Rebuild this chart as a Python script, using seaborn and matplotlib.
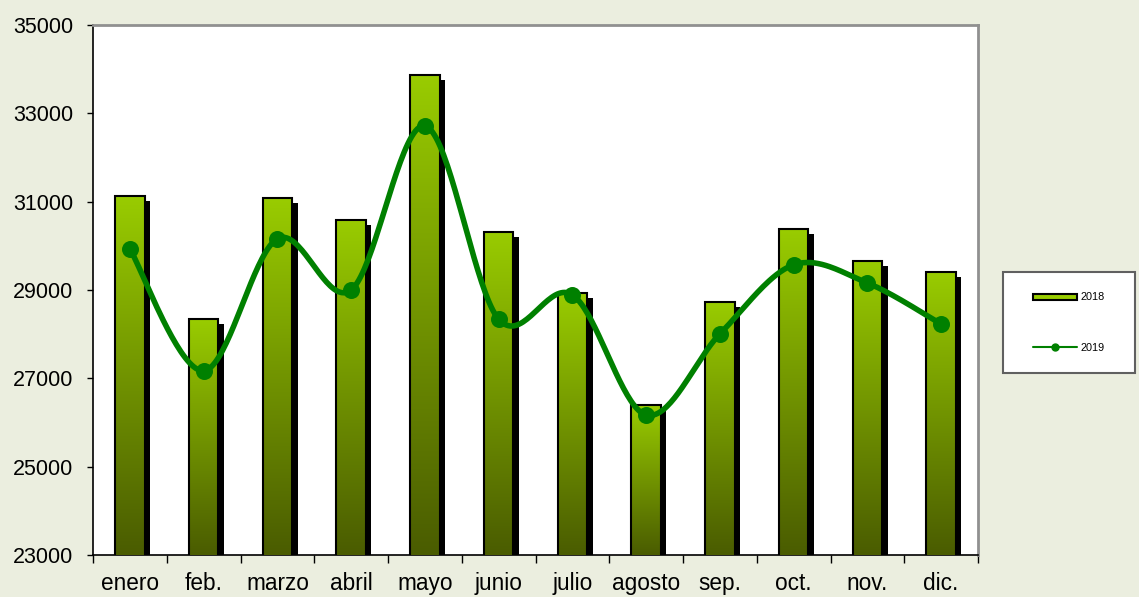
import numpy as np
import pandas as pd
import matplotlib
matplotlib.use("Agg")
import matplotlib.pyplot as plt
import matplotlib.transforms as mtransforms
from matplotlib.patches import Rectangle, Patch
from matplotlib.lines import Line2D
from matplotlib.colors import LinearSegmentedColormap
import seaborn as sns

# ---- data ----
months = ["enero", "feb.", "marzo", "abril", "mayo", "junio", "julio",
          "agosto", "sep.", "oct.", "nov.", "dic."]
values_2018 = [31130, 28340, 31080, 30585, 33870, 30315, 28930,
               26395, 28730, 30380, 29655, 29410]
values_2019 = [29930, 27170, 30160, 29000, 32715, 28340, 28890,
               26170, 28005, 29570, 29160, 28230]
y_ticks = [23000, 25000, 27000, 29000, 31000, 33000, 35000]
series_labels = ["2018", "2019"]

BG = "#EBEEDF"
BAR_TOP = "#99CC00"
BAR_BOTTOM = "#4A5C00"
LINE_C = "#008000"

sns.set_theme(style="white")
plt.rcParams["font.family"] = ["Liberation Sans", "DejaVu Sans"]
plt.rcParams["text.color"] = "black"
plt.rcParams["xtick.color"] = "black"
plt.rcParams["ytick.color"] = "black"
plt.rcParams["xtick.labelcolor"] = "black"
plt.rcParams["ytick.labelcolor"] = "black"

fig = plt.figure(figsize=(11.39, 5.97), dpi=100, facecolor=BG)
ax = fig.add_axes([93 / 1139, 42 / 597, (978 - 93) / 1139, (555 - 25) / 597])
ax.set_facecolor("white")

df = pd.DataFrame({"mes": months, "v2018": values_2018, "v2019": values_2019})
sns.barplot(data=df, x="mes", y="v2018", ax=ax, color=BAR_TOP, width=0.4,
            edgecolor="black", linewidth=1.5, saturation=1, zorder=3)

ymin, ymax = y_ticks[0], y_ticks[-1]
ax.set_ylim(ymin, ymax)
ax.set_xlim(-0.5, len(months) - 0.5)

cmap = LinearSegmentedColormap.from_list("g", [BAR_BOTTOM, BAR_TOP])
grad = np.linspace(0, 1, 256).reshape(-1, 1)
shadow_tr = ax.transData + mtransforms.ScaledTranslation(5.5 / 100, -5 / 100, fig.dpi_scale_trans)
for p in list(ax.patches):
    x0, w, top = p.get_x(), p.get_width(), p.get_height()
    sh = Rectangle((x0, 0), w, top, facecolor="black", edgecolor="none",
                   transform=shadow_tr, zorder=2)
    ax.add_patch(sh)
    im = ax.imshow(grad, extent=[x0, x0 + w, ymin, top], origin="lower",
                   cmap=cmap, aspect="auto", zorder=3.5, interpolation="bilinear")
    im.set_clip_path(p)
    p.set_facecolor("none")
    p.set_zorder(4)
ax.set_xlim(-0.5, len(months) - 0.5)
ax.set_ylim(ymin, ymax)

# smooth line (Excel-style smoothing through the points)
xs = np.arange(len(months), dtype=float)
ys = np.array(values_2019, dtype=float)
P = np.column_stack([xs, ys])
Pext = np.vstack([P[0], P, P[-1]])
curve = []
t = np.linspace(0, 1, 40)[:, None]
for i in range(len(P) - 1):
    p0, p1, p2, p3 = Pext[i], Pext[i + 1], Pext[i + 2], Pext[i + 3]
    c1 = p1 + (p2 - p0) / 6
    c2 = p2 - (p3 - p1) / 6
    seg = ((1 - t) ** 3) * p1 + 3 * ((1 - t) ** 2) * t * c1 + 3 * (1 - t) * t ** 2 * c2 + t ** 3 * p2
    curve.append(seg)
curve = np.vstack(curve)
ax.plot(curve[:, 0], curve[:, 1], color=LINE_C, lw=4, zorder=5, solid_capstyle="round")
sns.scatterplot(x=xs, y=ys, ax=ax, color=LINE_C, s=150, edgecolor=LINE_C,
                linewidth=0, zorder=6, legend=False)

# axes styling
ax.set_xlabel("")
ax.set_ylabel("")
ax.set_yticks(y_ticks)
ax.set_yticklabels([str(v) for v in y_ticks], fontsize=15.5, color="black")
ax.set_xticks(np.arange(-0.5, len(months), 1.0))
ax.set_xticklabels([])
ax.set_xticks(xs, minor=True)
ax.set_xticklabels(months, minor=True, fontsize=16.3, color="black")
ax.tick_params(axis="x", which="major", length=6, width=1, color="black", direction="out", bottom=True)
ax.tick_params(axis="x", which="minor", length=0, pad=12)
ax.tick_params(axis="y", length=4.5, width=1, color="black", direction="out", left=True, pad=10)
for s in ["left", "bottom"]:
    ax.spines[s].set_color("black")
    ax.spines[s].set_linewidth(1.2)
for s in ["top", "right"]:
    ax.spines[s].set_color("#909090")
    ax.spines[s].set_linewidth(2)
ax.grid(False)

# legend frame (exact box) + legend entries
box = Rectangle((1003 / 1139, (597 - 373) / 597), 132 / 1139, 101 / 597,
                transform=fig.transFigure, facecolor="white", edgecolor="#606060",
                linewidth=1.5, zorder=1)
fig.patches.append(box)
handles = [Patch(facecolor=BAR_TOP, edgecolor="black", linewidth=1.5),
           Line2D([0], [0], color=LINE_C, lw=1.5, marker="o", markersize=5)]
leg = fig.legend(handles, series_labels, loc="center",
                 bbox_to_anchor=(1003 / 1139, (597 - 373) / 597, 132 / 1139, 101 / 597),
                 fontsize=7.8, frameon=False, handlelength=4.1,
                 handleheight=0.45, labelspacing=3.7, handletextpad=0.3,
                 borderpad=0.5, labelcolor="black")

fig.savefig("out.png", dpi=100, facecolor=BG)
